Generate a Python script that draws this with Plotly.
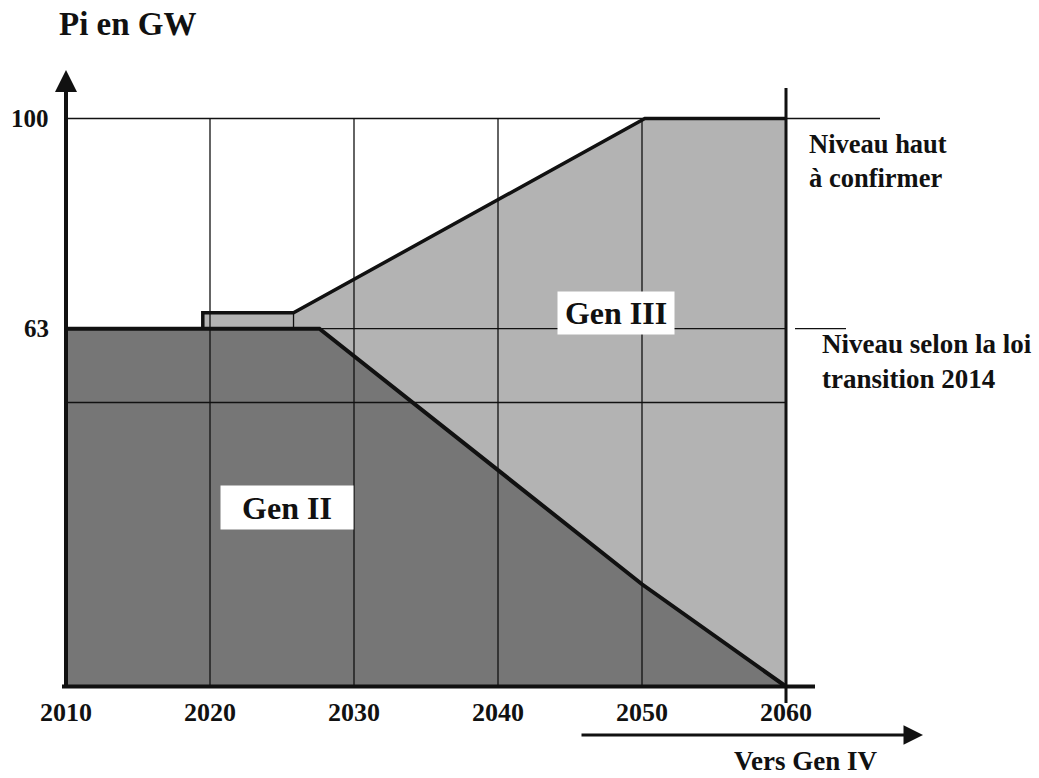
import plotly.graph_objects as go

# ── data ────────────────────────────────────────────────────────────────────
year_ticks = [2010, 2020, 2030, 2040, 2050, 2060]
year_labels = ["2010", "2020", "2030", "2040", "2050", "2060"]
gw_ticks = [63, 100]
gw_labels = ["63", "100"]
gw_grid = [50, 63, 100]

# Gen II (dark area) upper edge
gen2_years = [2010, 2027.6, 2050, 2060]
gen2_gw = [63, 63, 18, 0]

# Gen II + Gen III (light area) upper edge
total_years = [2010, 2019.5, 2019.5, 2025.8, 2050.2, 2060]
total_gw = [63, 63, 65.8, 65.8, 100, 100]

# ── page geometry (pixels, measured on the page) ────────────────────────────
W, H = 1039, 778
PX_X0, PX_PER_YEAR = 66, 14.4      # pixel of 2010, pixels per year
PX_Y0, PX_PER_GW = 686.5, 5.68     # pixel of 0 GW, pixels per GW


def px_x(px):
    return 2010 + (px - PX_X0) / PX_PER_YEAR


def px_y(py):
    return (PX_Y0 - py) / PX_PER_GW


def paper_x(px):
    return px / W


def paper_y(py):
    return 1 - py / H


DARK = "#767676"
LIGHT = "#b3b3b3"
INK = "#111111"
FONT = "Liberation Serif"

fig = go.Figure()

# light area = whole envelope, dark area on top of it
fig.add_trace(go.Scatter(x=total_years, y=total_gw, fill="tozeroy",
                         fillcolor=LIGHT, mode="lines", line=dict(width=0),
                         hoverinfo="skip", showlegend=False))
fig.add_trace(go.Scatter(x=gen2_years, y=gen2_gw, fill="tozeroy",
                         fillcolor=DARK, mode="lines", line=dict(width=0),
                         hoverinfo="skip", showlegend=False))

# thin grid lines
gx, gy = [], []
for yr in year_ticks[1:-1]:
    gx += [yr, yr, None]
    gy += [0, gw_grid[-1], None]
for v in gw_grid:
    right = px_x(880) if v == gw_grid[-1] else year_ticks[-1]
    gx += [year_ticks[0], right, None]
    gy += [v, v, None]
# short mark beside the 2060 line at 63 GW
gx += [px_x(795), px_x(846), None]
gy += [gw_ticks[0], gw_ticks[0], None]
# small riser at end of the step
gx += [total_years[3], total_years[3], None]
gy += [gen2_gw[0], total_gw[3], None]
fig.add_trace(go.Scatter(x=gx, y=gy, mode="lines",
                         line=dict(color=INK, width=1.3),
                         hoverinfo="skip", showlegend=False))

# thick outlines
fig.add_trace(go.Scatter(x=total_years[1:], y=total_gw[1:], mode="lines",
                         line=dict(color=INK, width=3.5),
                         hoverinfo="skip", showlegend=False))
fig.add_trace(go.Scatter(x=gen2_years, y=gen2_gw, mode="lines",
                         line=dict(color=INK, width=4),
                         hoverinfo="skip", showlegend=False))

# axes drawn by hand: x axis, 2060 bar
fig.add_trace(go.Scatter(x=[px_x(62), px_x(815)], y=[0, 0], mode="lines",
                         line=dict(color=INK, width=4),
                         hoverinfo="skip", showlegend=False))
fig.add_trace(go.Scatter(x=[year_ticks[-1], year_ticks[-1]],
                         y=[px_y(703), px_y(88)], mode="lines",
                         line=dict(color=INK, width=3),
                         hoverinfo="skip", showlegend=False))

annotations = []
# y axis with arrow
annotations.append(dict(x=year_ticks[0], y=px_y(70), ax=year_ticks[0], ay=0,
                        xref="x", yref="y", axref="x", ayref="y", text="",
                        showarrow=True, arrowhead=2, arrowsize=1.1,
                        arrowwidth=4, arrowcolor=INK))
# "Vers Gen IV" arrow
annotations.append(dict(x=px_x(923), y=px_y(735), ax=px_x(580), ay=px_y(735),
                        xref="x", yref="y", axref="x", ayref="y", text="",
                        showarrow=True, arrowhead=2, arrowsize=1.3,
                        arrowwidth=3, arrowcolor=INK))

# tick labels
for yr, lab in zip(year_ticks, year_labels):
    annotations.append(dict(x=yr, y=px_y(712), xref="x", yref="y",
                            text="<b>%s</b>" % lab,
                            showarrow=False, xanchor="center", yanchor="middle",
                            font=dict(family=FONT, size=26, color=INK)))
for v, lab in zip(gw_ticks, gw_labels):
    annotations.append(dict(x=px_x(51), y=v, xref="x", yref="y",
                            text="<b>%s</b>" % lab,
                            showarrow=False, xanchor="right", yanchor="middle",
                            font=dict(family=FONT, size=25, color=INK)))

# area labels on white boxes
annotations.append(dict(x=px_x(287), y=px_y(507), xref="x", yref="y",
                        text="<b>Gen II</b>", showarrow=False,
                        bgcolor="white", width=130, height=41,
                        font=dict(family=FONT, size=32, color=INK)))
annotations.append(dict(x=px_x(616), y=px_y(313), xref="x", yref="y",
                        text="<b>Gen III</b>", showarrow=False,
                        bgcolor="white", width=114, height=40,
                        font=dict(family=FONT, size=32, color=INK)))

# free text
annotations.append(dict(x=paper_x(57), y=paper_y(24), xref="paper", yref="paper",
                        text="<b>Pi en GW</b>", showarrow=False,
                        xanchor="left", yanchor="middle",
                        font=dict(family=FONT, size=33, color=INK)))
annotations.append(dict(x=paper_x(807), y=paper_y(161), xref="paper", yref="paper",
                        text="<b>Niveau haut<br>à confirmer</b>", showarrow=False,
                        xanchor="left", yanchor="middle", align="left",
                        font=dict(family=FONT, size=26.5, color=INK)))
annotations.append(dict(x=paper_x(820), y=paper_y(361), xref="paper", yref="paper",
                        text="<b>Niveau selon la loi<br>transition 2014</b>",
                        showarrow=False, xanchor="left", yanchor="middle",
                        align="left",
                        font=dict(family=FONT, size=27, color=INK)))
annotations.append(dict(x=paper_x(806), y=paper_y(761), xref="paper", yref="paper",
                        text="<b>Vers Gen IV</b>", showarrow=False,
                        xanchor="center", yanchor="middle",
                        font=dict(family=FONT, size=27, color=INK)))

fig.update_layout(
    width=W, height=H, autosize=False,
    margin=dict(l=0, r=0, t=0, b=0),
    paper_bgcolor="white", plot_bgcolor="white",
    xaxis=dict(range=[px_x(0), px_x(W)], visible=False, fixedrange=True),
    yaxis=dict(range=[px_y(H), px_y(0)], visible=False, fixedrange=True),
    annotations=annotations,
    showlegend=False,
)

# drop the default 8px body margin so the figure fills the window exactly
fig.write_html("out.html", config={"displayModeBar": False},
               post_script="document.body.style.margin = '0';")
